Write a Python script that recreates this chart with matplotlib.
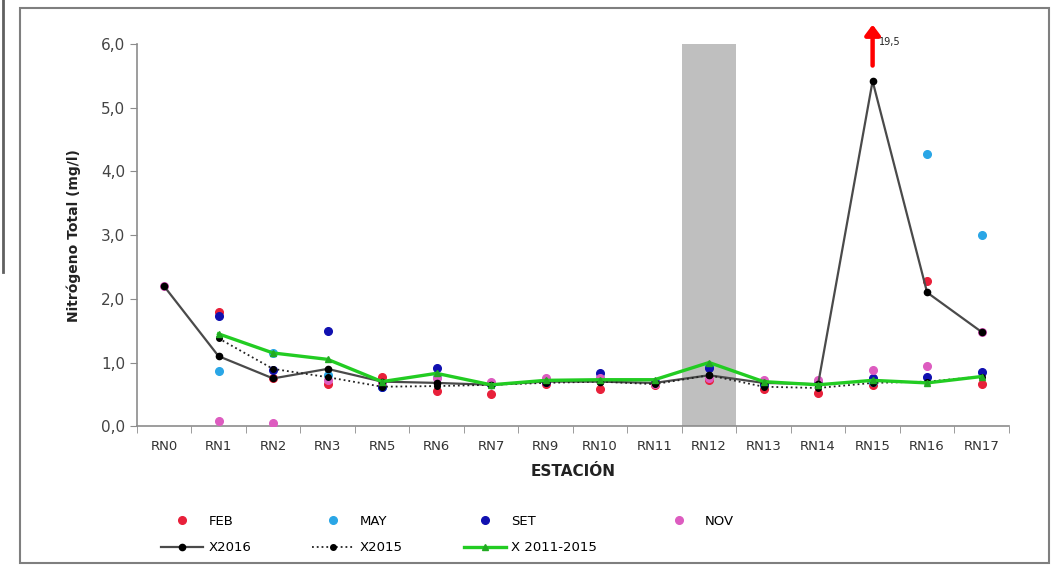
import numpy as np
import matplotlib
matplotlib.use("Agg")
import matplotlib.pyplot as plt
from matplotlib.lines import Line2D
from matplotlib.patches import Rectangle
from matplotlib.ticker import FuncFormatter

estaciones = ["RN0", "RN1", "RN2", "RN3", "RN5", "RN6", "RN7", "RN9",
              "RN10", "RN11", "RN12", "RN13", "RN14", "RN15", "RN16", "RN17"]

# campañas 2016 (None = sin dato)
feb = [None, 1.80, 0.75, 0.66, 0.77, 0.55, 0.50, 0.66, 0.58, 0.65, 0.72, 0.58, 0.52, 0.65, 2.28, 0.66]
may = [None, 0.86, 1.15, 0.80, 0.62, 0.78, 0.66, 0.72, 0.76, 0.70, 0.95, 0.65, 0.68, 0.70, 4.27, 3.00]
sep = [None, 1.73, 0.88, 1.50, 0.62, 0.91, 0.66, 0.70, 0.83, 0.70, 0.92, 0.66, 0.68, 0.75, 0.78, 0.85]
nov = [2.20, 0.08, 0.05, 0.72, 0.68, 0.75, 0.70, 0.75, 0.75, 0.66, 0.75, 0.72, 0.72, 0.88, 0.95, 1.48]

x2016 = [2.20, 1.10, 0.75, 0.90, 0.70, 0.68, 0.65, 0.70, 0.70, 0.68, 0.80, 0.68, 0.66, 5.42, 2.10, 1.48]
x2015 = [None, 1.38, 0.90, 0.77, 0.62, 0.63, 0.65, 0.68, 0.70, 0.66, 0.80, 0.62, 0.60, 0.68, 0.70, 0.78]
x2011_2015 = [None, 1.45, 1.15, 1.05, 0.70, 0.83, 0.65, 0.72, 0.73, 0.73, 1.00, 0.70, 0.65, 0.72, 0.68, 0.78]

valor_rn15 = "19,5"
estacion_gris = "RN12"


def arr(v):
    return np.array([np.nan if a is None else a for a in v], dtype=float)


fig = plt.figure(figsize=(10.52, 5.66), dpi=100)
ax = fig.add_axes([0.130, 0.247, 0.829, 0.675])

xs = np.arange(len(estaciones))
ig = estaciones.index(estacion_gris)
ax.axvspan(ig - 0.5, ig + 0.5, ymin=0, ymax=1, color="#bfbfbf", zorder=0, lw=0)

ms = 5.5
ax.plot(xs, arr(feb), "o", color="#e8203a", ms=ms, zorder=3, label="FEB")
ax.plot(xs, arr(may), "o", color="#2aa6e6", ms=ms, zorder=3, label="MAY")
ax.plot(xs, arr(sep), "o", color="#1010b0", ms=ms, zorder=3, label="SET")
ax.plot(xs, arr(nov), "o", color="#dd5cc0", ms=ms, zorder=3, label="NOV")

ax.plot(xs, arr(x2016), "-", color="#4a4a4a", lw=1.6, marker="o", mfc="black",
        mec="black", ms=4.5, zorder=4, label="X2016")
ax.plot(xs, arr(x2015), ":", color="#222222", lw=1.3, marker="o", mfc="black",
        mec="black", ms=4, zorder=4, label="X2015")
ax.plot(xs, arr(x2011_2015), "-", color="#22cc22", lw=2.4, marker="^",
        mfc="#22aa22", mec="#22aa22", ms=5, zorder=5, label="X 2011-2015")

# flecha valor fuera de escala
i15 = estaciones.index("RN15")
ax.annotate("", xy=(i15, 6.35), xytext=(i15, 5.62),
            arrowprops=dict(arrowstyle="-|>,head_width=0.45,head_length=0.6",
                            color="red", lw=3.2),
            annotation_clip=False, zorder=6)
ax.text(i15 + 0.12, 6.04, valor_rn15, fontsize=7, color="#222222", va="center",
        clip_on=False)

ax.set_xlim(-0.5, len(estaciones) - 0.5)
ax.set_ylim(0, 6)
ax.set_yticks(np.arange(0, 6.1, 1.0))
ax.yaxis.set_major_formatter(FuncFormatter(lambda v, p: f"{v:.1f}".replace(".", ",")))
ax.set_xticks(xs)
ax.set_xticklabels(estaciones)
ax.set_xticks(np.arange(-0.5, len(estaciones), 1.0), minor=True)
ax.tick_params(axis="x", which="major", length=0, labelsize=9.5, colors="#333333", pad=10)
ax.tick_params(axis="x", which="minor", length=5, color="#8c8c8c", direction="out")
ax.tick_params(axis="y", length=5, color="#8c8c8c", labelsize=11, labelcolor="#444444")

for s in ["top", "right"]:
    ax.spines[s].set_visible(False)
for s in ["left", "bottom"]:
    ax.spines[s].set_color("#8c8c8c")
    ax.spines[s].set_linewidth(1.2)

ax.set_xlabel("ESTACIÓN", fontsize=11, fontweight="bold", color="#222222", labelpad=8)
ax.set_ylabel("Nitrógeno Total (mg/l)", fontsize=10, fontweight="bold", color="#222222", labelpad=14)

handles, labels = ax.get_legend_handles_labels()
order = [0, 4, 1, 5, 2, 6, 3]
leg = fig.legend([handles[i] for i in order], [labels[i] for i in order],
                 loc="lower left", bbox_to_anchor=(0.142, 0.0), ncol=4,
                 frameon=False, fontsize=9.5, columnspacing=4.6,
                 handlelength=3.2, handletextpad=0.4, labelspacing=1.0)

# marcos
fig.add_artist(Rectangle((20 / 1052, 1 - 563 / 566), 1029 / 1052, 555 / 566,
                         transform=fig.transFigure, fill=False,
                         edgecolor="#7f7f7f", lw=1.5))
fig.add_artist(Line2D([3 / 1052, 3 / 1052], [1, 1 - 272 / 566],
                      transform=fig.transFigure, color="#606060", lw=2))

fig.savefig("out.png", dpi=100)
